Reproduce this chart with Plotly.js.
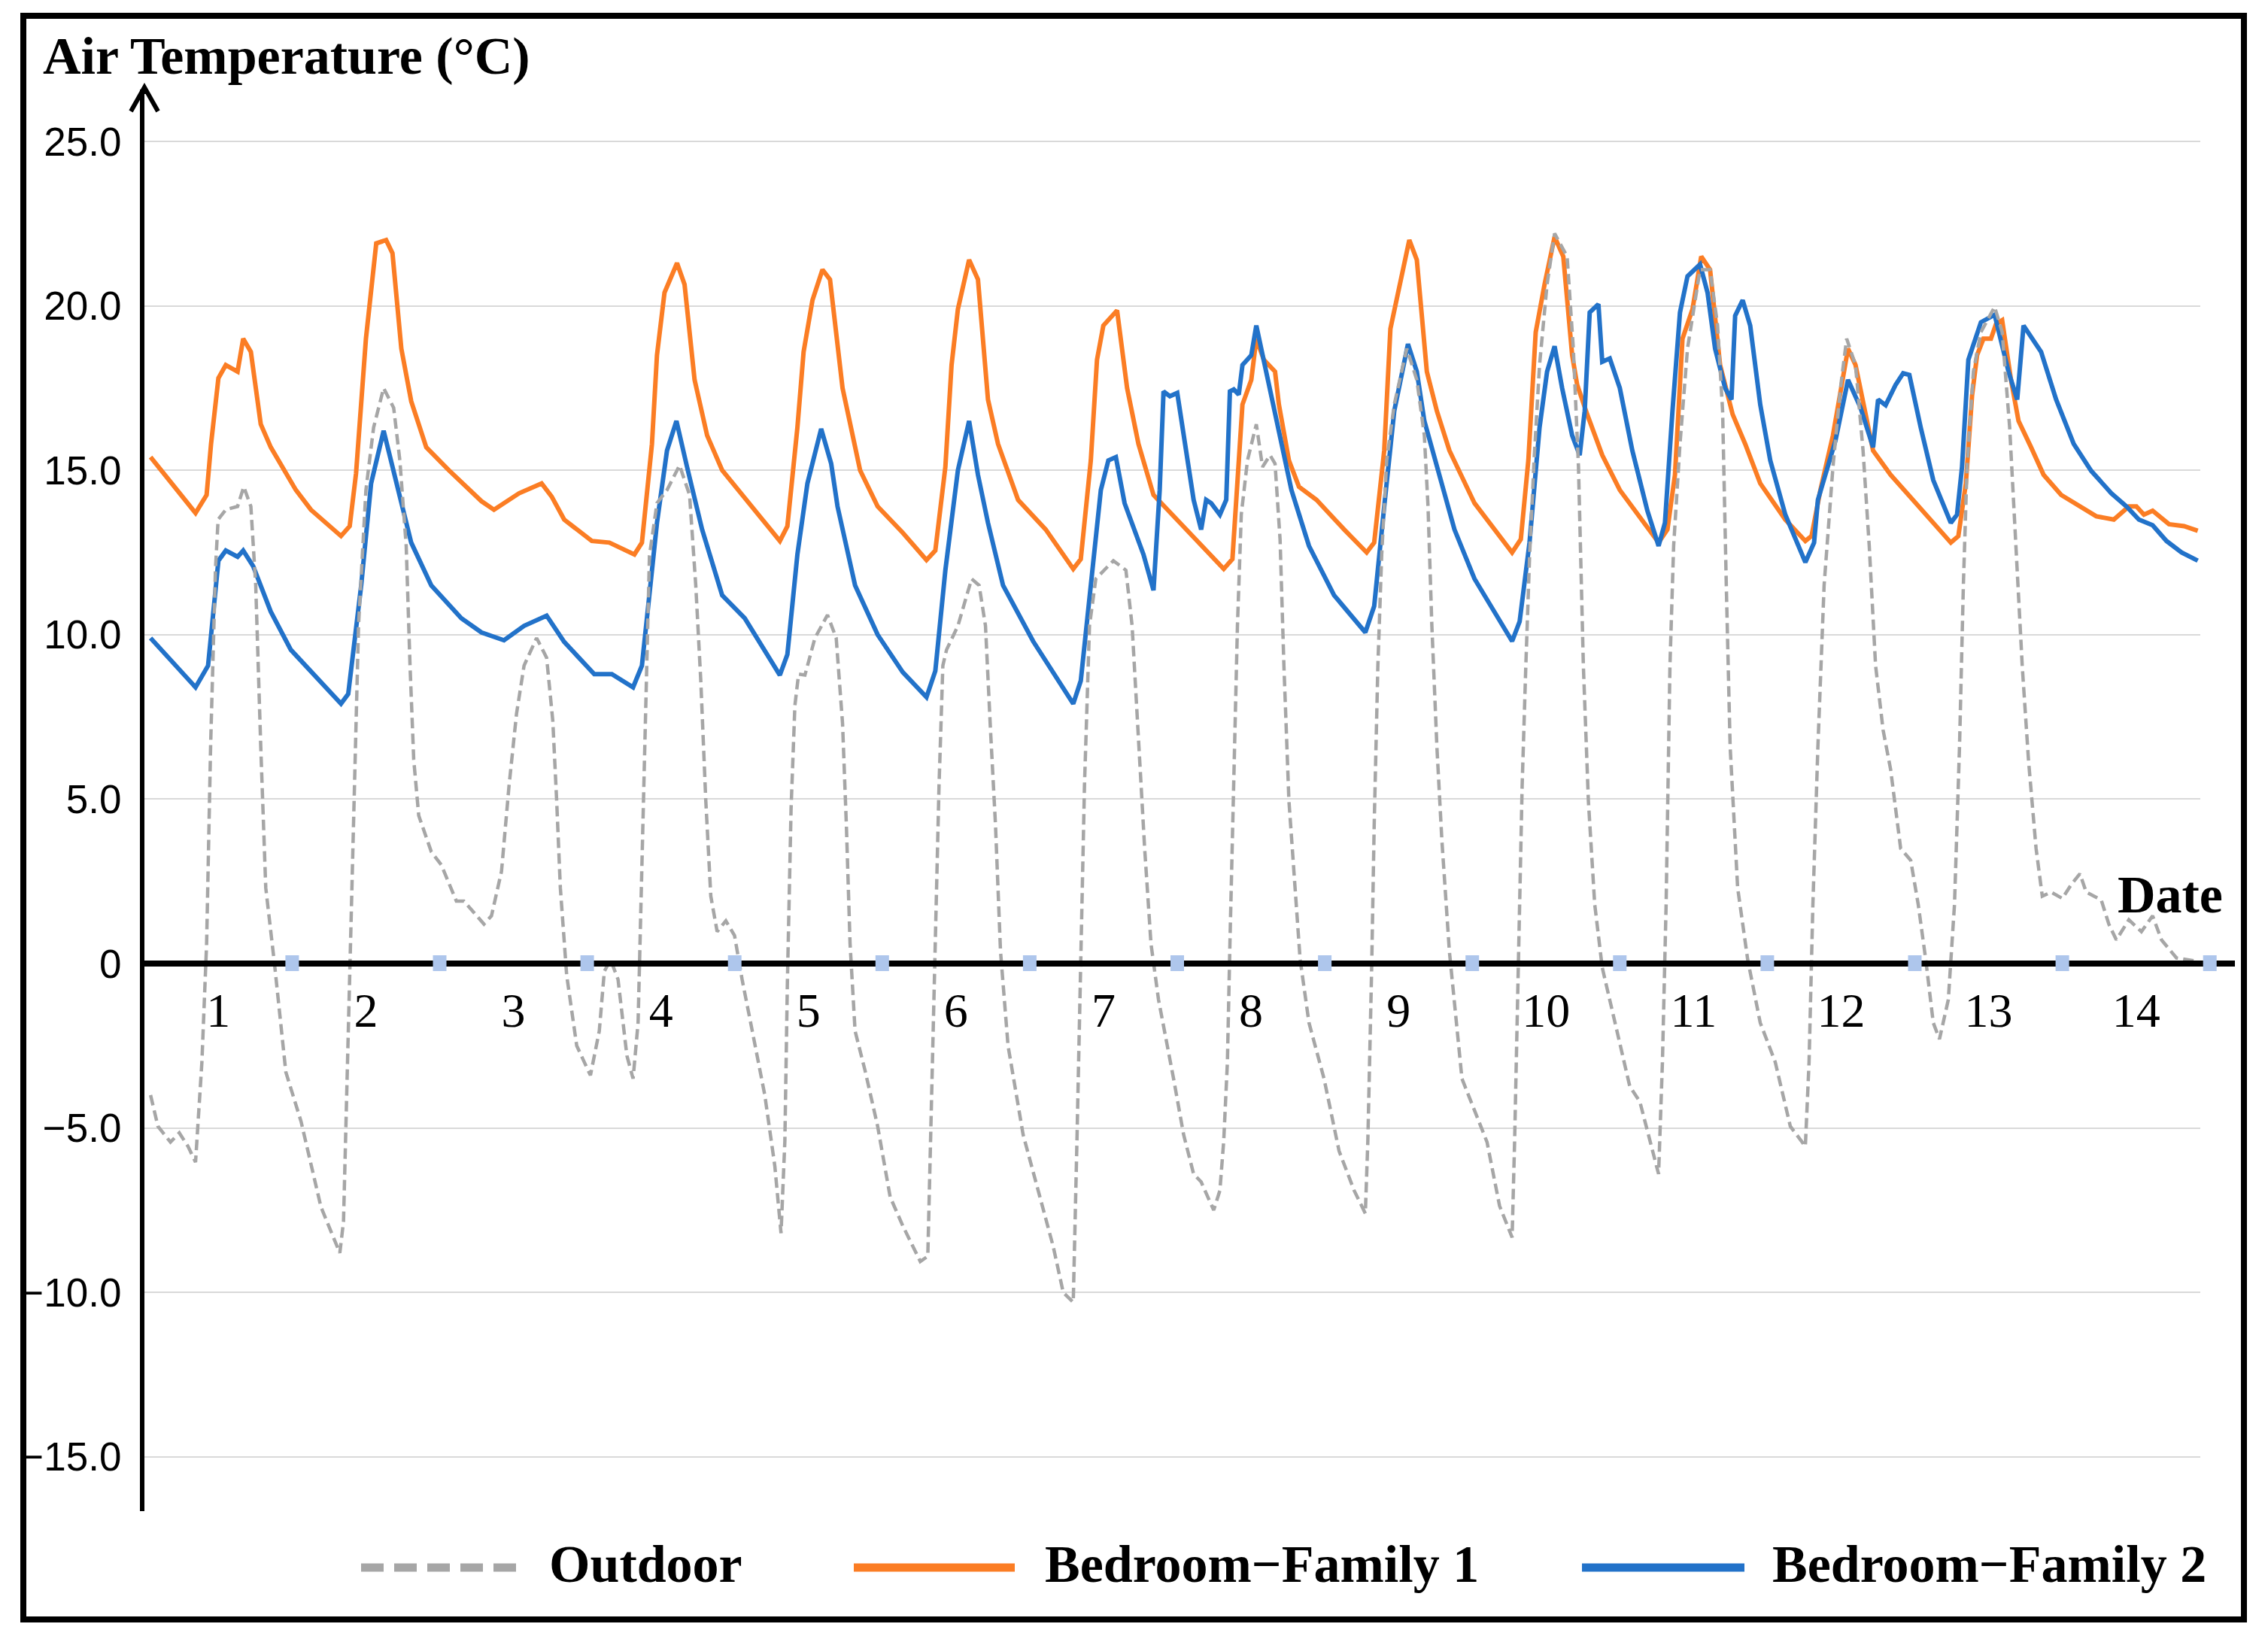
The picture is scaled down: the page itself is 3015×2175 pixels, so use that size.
<!DOCTYPE html>
<html>
<head>
<meta charset="utf-8">
<script src="https://cdn.plot.ly/plotly-3.0.1.min.js"></script>
<style>html,body{margin:0;padding:0;background:#fff;}#chart{width:3015px;height:2175px;}</style>
</head>
<body>
<div id="chart"></div>
<script>
// ---------- DATA (x = day position, 0..14; values in °C) ----------
const dayLabels = ["1","2","3","4","5","6","7","8","9","10","11","12","13","14"];
const yTickVals = [25, 20, 15, 10, 5, 0, -5, -10, -15];
const yTickText = ["25.0", "20.0", "15.0", "10.0", "5.0", "0", "\u22125.0", "\u221210.0", "\u221215.0"];
const seriesNames = ["Outdoor", "Bedroom\u2212Family 1", "Bedroom\u2212Family 2"];

const outdoorT = [0.04,0.09,0.175,0.235,0.294,0.345,0.388,0.42,0.447,0.48,0.498,0.55,0.63,0.672,0.72,0.753,0.787,0.821,0.88,0.957,1.06,1.195,1.323,1.348,1.382,1.408,1.45,1.5,1.552,1.62,1.688,1.73,1.773,1.799,1.824,1.858,1.943,2.011,2.113,2.164,2.3,2.351,2.419,2.47,2.521,2.572,2.657,2.725,2.767,2.793,2.818,2.861,2.929,3.022,3.082,3.116,3.158,3.209,3.269,3.311,3.345,3.371,3.396,3.422,3.473,3.541,3.626,3.694,3.736,3.77,3.804,3.838,3.881,3.94,3.999,4.05,4.119,4.204,4.272,4.314,4.34,4.357,4.382,4.408,4.433,4.476,4.544,4.629,4.688,4.731,4.757,4.782,4.816,4.884,4.969,5.054,5.139,5.258,5.309,5.334,5.36,5.385,5.411,5.436,5.513,5.606,5.657,5.7,5.734,5.768,5.802,5.853,5.955,6.057,6.159,6.227,6.295,6.32,6.346,6.371,6.405,6.448,6.567,6.652,6.694,6.737,6.779,6.822,6.873,6.975,7.043,7.111,7.162,7.247,7.289,7.315,7.34,7.357,7.383,7.408,7.434,7.476,7.536,7.578,7.629,7.663,7.697,7.723,7.757,7.791,7.833,7.893,7.995,8.097,8.199,8.275,8.292,8.318,8.335,8.36,8.386,8.42,8.471,8.556,8.624,8.675,8.7,8.726,8.76,8.794,8.845,8.93,9.015,9.1,9.185,9.27,9.287,9.312,9.338,9.363,9.389,9.42,9.456,9.507,9.558,9.643,9.685,9.72,9.753,9.787,9.83,9.881,9.966,10.068,10.136,10.204,10.263,10.289,10.314,10.34,10.365,10.408,10.459,10.544,10.612,10.663,10.697,10.722,10.748,10.799,10.867,10.952,11.054,11.156,11.258,11.283,11.309,11.343,11.385,11.445,11.496,11.538,11.598,11.649,11.691,11.734,11.785,11.836,11.904,11.972,12.023,12.074,12.125,12.167,12.227,12.269,12.303,12.329,12.354,12.397,12.448,12.541,12.592,12.643,12.686,12.728,12.771,12.822,12.864,12.924,13.0,13.06,13.119,13.162,13.264,13.315,13.366,13.451,13.536,13.612,13.672,13.774,13.91];
const outdoorV = [-4.0,-4.95,-5.43,-5.15,-5.56,-6.04,-3.0,0.6,6.6,12.0,13.5,13.8,13.9,14.5,13.9,11.5,6.6,2.3,0,-3.3,-4.8,-7.4,-8.8,-7.85,-1.8,3.0,10.3,14.4,16.3,17.5,16.9,15.3,12.7,9.06,6.2,4.5,3.4,3.0,1.9,1.9,1.2,1.45,2.8,5.4,7.6,9.06,9.9,9.3,7.37,4.95,2.3,-0.36,-2.5,-3.4,-2.05,-0.24,0.12,-0.48,-2.8,-3.5,-1.8,3.0,7.6,12.4,14.0,14.4,15.15,14.25,11.5,8.6,4.95,2.05,0.97,1.3,0.85,-0.48,-2.05,-4.0,-6.16,-8.2,-5.4,-0.6,4.7,7.85,8.8,8.77,9.9,10.6,9.9,7.3,4.2,0.6,-2.05,-3.26,-4.95,-7.1,-7.97,-9.06,-8.9,-4.2,0.6,5.4,9.06,9.54,10.27,11.7,11.5,10.27,7.1,4.2,0.36,-2.5,-5.2,-6.9,-8.6,-10.0,-10.3,-5.4,-0.1,5.4,10.27,11.7,12.25,11.96,10.27,6.9,3.5,0.6,-1.1,-3.5,-5.2,-6.4,-6.64,-7.5,-6.9,-5.4,-3.0,0.6,5.4,10.27,13.65,15.3,16.4,15.1,15.46,15.2,12.9,9.06,4.95,2.8,0.12,-1.8,-3.5,-5.7,-6.9,-7.6,-5.4,-0.12,4.2,9.06,12.44,15.3,17.0,18.7,17.75,16.06,13.9,10.27,6.6,3.74,0.36,-3.5,-4.47,-5.43,-7.37,-8.33,-5.4,-0.6,5.4,9.06,12.44,15.4,18.2,20.65,22.2,21.5,18.7,15.1,9.06,4.95,1.8,-0.12,-1.8,-3.74,-4.2,-5.43,-6.4,-3.0,1.8,9.06,12.7,15.8,18.7,21.1,21.1,19.4,16.8,11.5,6.6,2.3,0.12,-1.8,-3.0,-4.95,-5.56,-3.0,1.8,6.6,11.5,15.1,17.5,19.0,18.2,15.6,12.7,9.06,7.1,5.9,3.5,3.14,1.8,0.12,-1.8,-2.3,-1.1,1.8,6.6,11.5,15.1,18.0,19.2,19.97,19.2,16.3,12.7,9.06,6.16,3.5,2.05,2.17,1.98,2.4,2.73,2.17,1.93,1.2,0.72,1.33,0.97,1.45,0.72,0.17,0.07];

const family1T = [0.04,0.345,0.42,0.45,0.5,0.55,0.63,0.668,0.72,0.787,0.855,1.025,1.127,1.331,1.39,1.433,1.5,1.57,1.637,1.68,1.74,1.807,1.909,2.062,2.283,2.368,2.538,2.691,2.759,2.844,3.031,3.15,3.32,3.371,3.439,3.473,3.524,3.609,3.66,3.728,3.813,3.915,4.306,4.357,4.425,4.467,4.527,4.595,4.646,4.731,4.85,4.969,5.139,5.3,5.36,5.428,5.47,5.513,5.589,5.649,5.717,5.785,5.921,6.108,6.295,6.346,6.414,6.456,6.499,6.592,6.66,6.737,6.839,6.975,7.145,7.315,7.374,7.417,7.442,7.502,7.536,7.587,7.663,7.689,7.757,7.825,7.944,8.131,8.284,8.335,8.403,8.445,8.505,8.573,8.624,8.692,8.76,8.845,9.015,9.27,9.329,9.38,9.43,9.49,9.558,9.617,9.677,9.711,9.779,9.881,10.0,10.119,10.263,10.323,10.374,10.425,10.493,10.552,10.612,10.68,10.765,10.85,10.952,11.122,11.258,11.3,11.36,11.445,11.547,11.598,11.666,11.717,11.836,12.006,12.244,12.295,12.346,12.388,12.422,12.465,12.516,12.55,12.592,12.652,12.703,12.788,12.873,12.992,13.128,13.23,13.349,13.451,13.502,13.553,13.612,13.723,13.825,13.918];
const family1V = [15.4,13.7,14.25,15.8,17.8,18.2,18.0,19.0,18.6,16.4,15.7,14.4,13.8,13.0,13.3,14.9,19.0,21.9,22.0,21.6,18.7,17.1,15.7,15.0,14.06,13.8,14.3,14.6,14.2,13.5,12.85,12.8,12.44,12.8,15.8,18.5,20.4,21.3,20.65,17.75,16.06,15.0,12.85,13.3,16.3,18.6,20.17,21.1,20.8,17.5,15.0,13.9,13.1,12.27,12.56,15.1,18.2,19.9,21.4,20.8,17.15,15.8,14.1,13.2,12.0,12.3,15.3,18.36,19.4,19.86,17.5,15.8,14.25,13.6,12.8,12.0,12.3,15.1,17.0,17.75,19.0,18.36,18.0,17.0,15.3,14.5,14.1,13.2,12.5,12.8,15.6,19.3,20.5,22.0,21.4,18.0,16.8,15.6,14.0,12.5,12.9,15.3,19.2,20.65,22.1,21.5,18.5,17.6,16.7,15.46,14.4,13.65,12.8,13.2,14.86,19.0,19.9,21.5,21.1,18.2,16.7,15.8,14.6,13.5,12.85,13.0,14.4,16.06,18.7,18.2,16.7,15.6,14.86,14.0,12.8,13.0,14.6,17.27,18.5,19.0,19.0,19.44,19.56,17.75,16.5,15.7,14.86,14.25,13.9,13.6,13.5,13.9,13.9,13.65,13.77,13.36,13.3,13.16];

const family2T = [0.04,0.345,0.43,0.5,0.55,0.63,0.668,0.736,0.855,0.991,1.331,1.38,1.468,1.535,1.62,1.688,1.807,1.943,2.147,2.283,2.436,2.572,2.725,2.844,3.048,3.167,3.311,3.371,3.473,3.541,3.605,3.677,3.779,3.915,4.068,4.306,4.357,4.425,4.493,4.586,4.654,4.697,4.816,4.969,5.139,5.3,5.36,5.428,5.513,5.589,5.649,5.717,5.819,6.023,6.295,6.346,6.414,6.482,6.533,6.584,6.643,6.771,6.839,6.881,6.907,6.95,7.0,7.043,7.111,7.162,7.196,7.23,7.289,7.332,7.357,7.383,7.417,7.442,7.502,7.536,7.604,7.689,7.774,7.893,8.063,8.275,8.335,8.403,8.471,8.564,8.624,8.675,8.76,8.879,9.015,9.27,9.321,9.388,9.456,9.507,9.558,9.609,9.677,9.728,9.762,9.796,9.855,9.881,9.932,10.0,10.085,10.187,10.263,10.306,10.357,10.408,10.459,10.544,10.595,10.646,10.714,10.757,10.782,10.833,10.884,10.952,11.02,11.122,11.258,11.317,11.343,11.462,11.547,11.632,11.717,11.751,11.802,11.87,11.921,11.963,12.04,12.125,12.244,12.286,12.32,12.363,12.448,12.541,12.635,12.694,12.737,12.856,12.958,13.077,13.196,13.332,13.434,13.519,13.612,13.706,13.808,13.918];
const family2V = [9.9,8.4,9.06,12.25,12.56,12.37,12.56,12.08,10.7,9.54,7.9,8.2,11.5,14.6,16.2,15.0,12.8,11.5,10.5,10.07,9.83,10.27,10.58,9.78,8.8,8.8,8.4,9.06,13.4,15.6,16.5,15.1,13.2,11.2,10.5,8.77,9.4,12.44,14.6,16.26,15.2,13.9,11.5,10.0,8.86,8.1,8.9,11.96,15.0,16.5,14.86,13.4,11.5,9.8,7.9,8.6,11.5,14.4,15.3,15.4,14.0,12.44,11.35,14.4,17.4,17.25,17.35,16.06,14.1,13.2,14.1,14.0,13.65,14.1,17.4,17.46,17.3,18.2,18.5,19.4,18.0,16.3,14.4,12.7,11.2,10.07,10.87,13.9,16.8,18.84,18.0,16.5,15.1,13.2,11.7,9.8,10.4,12.8,16.3,18.0,18.77,17.5,16.06,15.46,16.8,19.8,20.05,18.3,18.4,17.5,15.6,13.77,12.7,13.4,16.8,19.8,20.9,21.26,20.4,18.7,17.5,17.15,19.7,20.17,19.4,17.0,15.3,13.65,12.2,12.8,14.1,15.9,17.75,16.9,15.7,17.15,16.98,17.6,17.95,17.9,16.3,14.7,13.4,13.65,15.1,18.36,19.5,19.73,18.0,17.15,19.4,18.6,17.15,15.8,14.98,14.3,13.9,13.5,13.33,12.85,12.5,12.25];

// ---------- STYLE / LAYOUT ----------
const colors = {outdoor: "#a6a6a6", f1: "#fb7d24", f2: "#2272c9"};
const SERIF = "Liberation Serif, Times New Roman, serif";
const SANS = "Liberation Sans, Arial, sans-serif";

// plot area in pixels
const L = 192, R = 2925, T = 119, B = 2009, W = R - L, H = B - T;
const ZERO_PX = 1281, PX_PER_UNIT = 43.72, DAY0_PX = 192.3, PX_PER_DAY = 196.1;
const px = x => (x - L) / W;
const py = y => (B - y) / H;
const yRange = [-(B - ZERO_PX) / PX_PER_UNIT, (ZERO_PX - T) / PX_PER_UNIT];
const xRange = [(L - DAY0_PX) / PX_PER_DAY, (R - DAY0_PX) / PX_PER_DAY];

const traces = [
  {x: family1T, y: family1V, name: seriesNames[1], type: "scatter", mode: "lines",
   line: {color: colors.f1, width: 6}},
  {x: family2T, y: family2V, name: seriesNames[2], type: "scatter", mode: "lines",
   line: {color: colors.f2, width: 6}},
  {x: outdoorT, y: outdoorV, name: seriesNames[0], type: "scatter", mode: "lines",
   line: {color: colors.outdoor, width: 4.5, dash: "14px,7px"}}
];

const shapes = [];
// outer frame
shapes.push({type: "rect", xref: "paper", yref: "paper", x0: px(31), x1: px(2983), y0: py(21), y1: py(2153),
  line: {color: "#000", width: 8}, fillcolor: "rgba(0,0,0,0)", layer: "above"});
// x axis line at 0
shapes.push({type: "line", xref: "paper", yref: "paper", x0: px(192), x1: px(2971), y0: py(ZERO_PX), y1: py(ZERO_PX),
  line: {color: "#000", width: 8}, layer: "above"});
// day boundary ticks
dayLabels.forEach((d, i) => {
  const cx = DAY0_PX + PX_PER_DAY * (i + 1);
  shapes.push({type: "rect", xref: "paper", yref: "paper", x0: px(cx - 9), x1: px(cx + 9),
    y0: py(ZERO_PX - 11), y1: py(ZERO_PX + 10), line: {width: 0}, fillcolor: "#aec6ec", layer: "above"});
});
// y axis arrow head
shapes.push({type: "path", xref: "paper", yref: "paper",
  path: `M ${px(192)},${py(T + 6)} L ${px(192)},${py(116)} M ${px(174)},${py(148)} L ${px(192)},${py(116)} L ${px(210)},${py(148)}`,
  line: {color: "#000", width: 6}, layer: "above"});
// legend samples
const legendItems = [
  {x0: 480, x1: 695, tx: 728, color: colors.outdoor, dash: "30px,14px", name: seriesNames[0]},
  {x0: 1135, x1: 1349, tx: 1387, color: colors.f1, dash: "solid", name: seriesNames[1]},
  {x0: 2103, x1: 2319, tx: 2354, color: colors.f2, dash: "solid", name: seriesNames[2]}
];
legendItems.forEach(it => {
  shapes.push({type: "line", xref: "paper", yref: "paper", x0: px(it.x0), x1: px(it.x1), y0: py(2084), y1: py(2084),
    line: {color: it.color, width: 11, dash: it.dash}});
});

const annotations = [
  {xref: "paper", yref: "paper", x: px(55), y: py(74), xanchor: "left", yanchor: "middle", showarrow: false,
   text: "<b>Air Temperature (°C)</b>", font: {family: SERIF, size: 70, color: "#000"}},
  {xref: "paper", yref: "paper", x: px(2957), y: py(1189), xanchor: "right", yanchor: "middle", showarrow: false,
   text: "<b>Date</b>", font: {family: SERIF, size: 70, color: "#000"}}
];
legendItems.forEach(it => {
  annotations.push({xref: "paper", yref: "paper", x: px(it.tx), y: py(2079), xanchor: "left", yanchor: "middle",
    showarrow: false, text: "<b>" + it.name + "</b>", font: {family: SERIF, size: 70, color: "#000"}});
});

const layout = {
  width: 3015, height: 2175,
  margin: {l: L, r: 3015 - R, t: T, b: 2175 - B, pad: 0},
  paper_bgcolor: "#fff", plot_bgcolor: "#fff",
  showlegend: false,
  xaxis: {
    range: xRange, anchor: "free", position: py(ZERO_PX),
    tickmode: "array", tickvals: dayLabels.map((d, i) => i + 0.5), ticktext: dayLabels,
    ticks: "", showgrid: false, zeroline: false, showline: false,
    tickfont: {family: SERIF, size: 64, color: "#000"}, ticklabelstandoff: 19
  },
  yaxis: {
    range: yRange, tickmode: "array", tickvals: yTickVals, ticktext: yTickText,
    ticks: "", showgrid: true, gridcolor: "#d9d9d9", gridwidth: 2, zeroline: false,
    showline: true, linecolor: "#000", linewidth: 6,
    tickfont: {family: SANS, size: 53, color: "#000"}, ticklabelstandoff: 14
  },
  shapes: shapes,
  annotations: annotations
};

Plotly.newPlot("chart", traces, layout, {displayModeBar: false, staticPlot: true});
</script>
</body>
</html>
